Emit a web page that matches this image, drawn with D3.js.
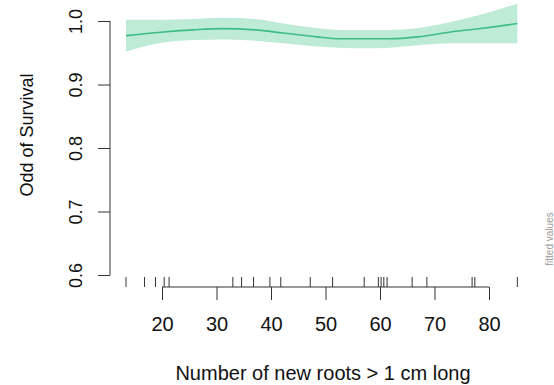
<!DOCTYPE html>
<html>
<head>
<meta charset="utf-8">
<script src="https://cdn.jsdelivr.net/npm/d3@7"></script>
<style>
  body { margin: 0; background: #fff; }
  svg { display: block; font-family: "Liberation Sans", Arial, sans-serif; }
</style>
</head>
<body>
<div id="plotDiv"></div>
<script>
// smooth fit
var fitX = [13.4, 19.3, 25.7, 31.0, 37.1, 42.2, 48.4, 52.7, 57.1, 61.8, 67.0, 73.2, 79.3, 85.2];
var fitY = [0.977, 0.982, 0.986, 0.988, 0.986, 0.981, 0.975, 0.972, 0.972, 0.972, 0.975, 0.983, 0.989, 0.996];
var upperY = [1.002, 1.002, 1.003, 1.005, 1.003, 0.996, 0.989, 0.986, 0.986, 0.986, 0.989, 0.999, 1.012, 1.027];
var lowerY = [0.952, 0.965, 0.970, 0.971, 0.969, 0.965, 0.960, 0.958, 0.957, 0.958, 0.962, 0.965, 0.965, 0.965];

// rug of observed values
var rugX = [13.4, 16.8, 18.8, 20.4, 21.3, 33.0, 34.6, 36.8, 39.8, 41.8, 47.2, 51.3, 57.1,
            59.7, 60.2, 60.7, 61.3, 65.9, 68.6, 76.9, 77.4, 85.2];

var xTicks = [20, 30, 40, 50, 60, 70, 80];
var yTicks = [0.6, 0.7, 0.8, 0.9, 1.0];

var width = 554, height = 385;

var x = d3.scaleLinear().domain([20, 80]).range([162, 489]);
var y = d3.scaleLinear().domain([0.6, 1.0]).range([275, 21]);

var svg = d3.select("#plotDiv")
    .append("svg")
    .attr("width", width)
    .attr("height", height);

var fit = fitX.map(function(d, i) {
    return { x: d, y: fitY[i], hi: upperY[i], lo: lowerY[i] };
});

// confidence band
svg.append("path")
    .datum(fit)
    .attr("fill", "#bdebd5")
    .attr("d", d3.area()
        .curve(d3.curveMonotoneX)
        .x(function(d) { return x(d.x); })
        .y0(function(d) { return y(d.lo); })
        .y1(function(d) { return y(d.hi); }));

// fitted line
svg.append("path")
    .datum(fit)
    .attr("fill", "none")
    .attr("stroke", "#3dbd84")
    .attr("stroke-width", 1.6)
    .attr("d", d3.line()
        .curve(d3.curveMonotoneX)
        .x(function(d) { return x(d.x); })
        .y(function(d) { return y(d.y); }));

// y axis
var yAxis = svg.append("g")
    .attr("transform", "translate(110,0)")
    .call(d3.axisLeft(y).tickValues(yTicks).tickSize(12).tickFormat(d3.format(".1f")));
yAxis.select(".domain").attr("d", "M0," + y(0.6) + "V" + y(1.0)).attr("stroke", "#333");
yAxis.selectAll(".tick line").attr("stroke", "#333");
yAxis.selectAll(".tick text")
    .attr("x", null).attr("dy", null)
    .attr("transform", "translate(-28,0) rotate(-90)")
    .attr("text-anchor", "middle")
    .attr("font-size", 18)
    .attr("font-family", "Liberation Sans, Arial, sans-serif")
    .attr("fill", "#111");

// rug
svg.append("g")
    .selectAll("line")
    .data(rugX)
    .enter().append("line")
    .attr("x1", function(d) { return x(d); })
    .attr("x2", function(d) { return x(d); })
    .attr("y1", 277)
    .attr("y2", 287)
    .attr("stroke", "#333");

// x axis
var xAxis = svg.append("g")
    .attr("transform", "translate(0,287)")
    .call(d3.axisBottom(x).tickValues(xTicks).tickSize(13));
xAxis.select(".domain").attr("d", "M" + x(20) + ",0H" + x(80)).attr("stroke", "#333");
xAxis.selectAll(".tick line").attr("stroke", "#333");
xAxis.selectAll(".tick text")
    .attr("y", 44).attr("dy", null)
    .attr("font-size", 20)
    .attr("font-family", "Liberation Sans, Arial, sans-serif")
    .attr("fill", "#111");

// axis titles
svg.append("text")
    .attr("x", 323)
    .attr("y", 380)
    .attr("text-anchor", "middle")
    .attr("font-size", 20)
    .attr("fill", "#111")
    .text("Number of new roots > 1 cm long");

svg.append("text")
    .attr("transform", "translate(33,135) rotate(-90)")
    .attr("text-anchor", "middle")
    .attr("font-size", 18)
    .attr("fill", "#111")
    .text("Odd of Survival");

svg.append("text")
    .attr("transform", "translate(553,239) rotate(-90)")
    .attr("text-anchor", "middle")
    .attr("font-size", 10)
    .attr("fill", "#999")
    .text("fitted values");
</script>
</body>
</html>
